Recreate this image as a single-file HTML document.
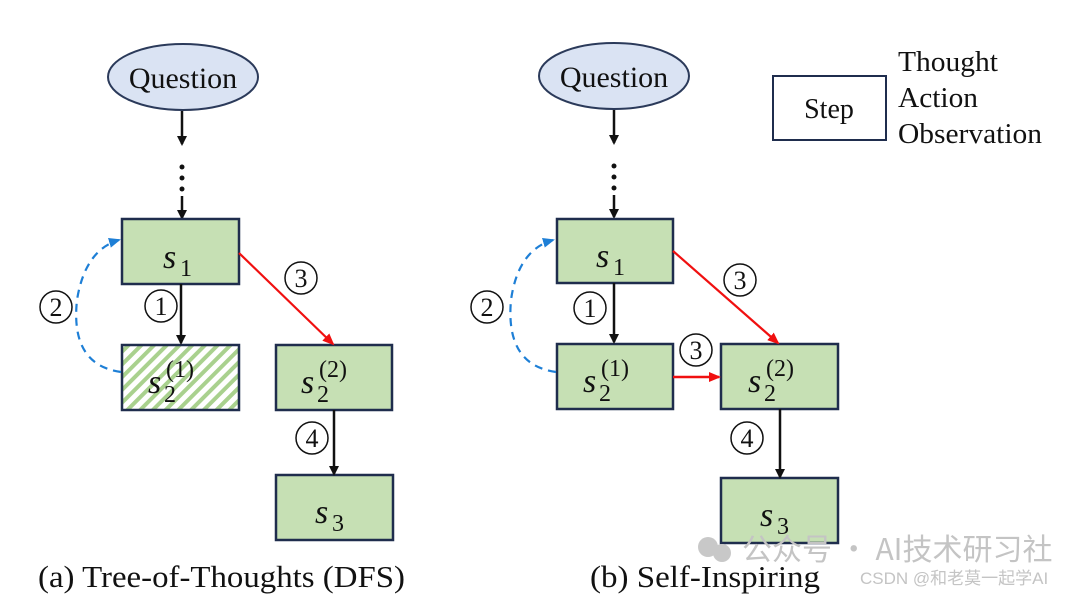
<!DOCTYPE html>
<html><head><meta charset="utf-8"><style>
html,body{margin:0;padding:0;background:#fff;}
svg{display:block;}
text{font-family:"Liberation Serif",serif;fill:#111;}
.s{font-style:italic;font-size:34px;}
.sub{font-size:24px;}
.sup{font-size:24px;}
</style></head><body>
<svg width="1080" height="594" viewBox="0 0 1080 594" xmlns="http://www.w3.org/2000/svg">
<defs>
<marker id="ak" markerWidth="10" markerHeight="10" refX="8" refY="5" orient="auto" markerUnits="userSpaceOnUse"><path d="M0,0 L10,5 L0,10 z" fill="#111"/></marker>
<marker id="ar" markerWidth="12" markerHeight="10" refX="10" refY="5" orient="auto" markerUnits="userSpaceOnUse"><path d="M0,0 L12,5 L0,10 z" fill="#f01010"/></marker>
<marker id="ab" markerWidth="12" markerHeight="10" refX="10" refY="5" orient="auto" markerUnits="userSpaceOnUse"><path d="M0,0 L12,5 L0,10 z" fill="#1e7fd6"/></marker>
<pattern id="hatch" width="9" height="9" patternUnits="userSpaceOnUse" patternTransform="rotate(45)">
<rect width="9" height="9" fill="#fff"/><rect width="4" height="9" fill="#a9d18e"/></pattern>
</defs>

<!-- LEFT -->
<ellipse cx="183" cy="77" rx="75" ry="33" fill="#dae3f3" stroke="#2b3a5a" stroke-width="2"/>
<text x="183" y="88" font-size="30" text-anchor="middle">Question</text>
<line x1="182" y1="111" x2="182" y2="144" stroke="#111" stroke-width="2.5" marker-end="url(#ak)"/>
<circle cx="182" cy="167" r="2.5" fill="#111"/><circle cx="182" cy="178" r="2.5" fill="#111"/><circle cx="182" cy="189" r="2.5" fill="#111"/>
<line x1="182" y1="196" x2="182" y2="218" stroke="#111" stroke-width="2.5" marker-end="url(#ak)"/>

<rect x="122" y="219" width="117" height="65" fill="#c6e0b4" stroke="#1f2d4d" stroke-width="2.5"/>
<text x="163" y="268" class="s">s</text><text x="180" y="276" class="sub">1</text>

<rect x="122" y="345" width="117" height="65" fill="url(#hatch)" stroke="#1f2d4d" stroke-width="2.5"/>
<text x="148" y="393" class="s">s</text><text x="164" y="402" class="sub">2</text><text x="166" y="377" class="sup">(1)</text>

<rect x="276" y="345" width="116" height="65" fill="#c6e0b4" stroke="#1f2d4d" stroke-width="2.5"/>
<text x="301" y="393" class="s">s</text><text x="317" y="402" class="sub">2</text><text x="319" y="377" class="sup">(2)</text>

<rect x="276" y="475" width="117" height="65" fill="#c6e0b4" stroke="#1f2d4d" stroke-width="2.5"/>
<text x="315" y="523" class="s">s</text><text x="332" y="531" class="sub">3</text>

<line x1="181" y1="284" x2="181" y2="343" stroke="#111" stroke-width="2.5" marker-end="url(#ak)"/>
<line x1="239" y1="253" x2="333" y2="344" stroke="#f01010" stroke-width="2.2" marker-end="url(#ar)"/>
<line x1="334" y1="410" x2="334" y2="474" stroke="#111" stroke-width="2.5" marker-end="url(#ak)"/>
<path d="M121,372 Q70,365 77,300 Q85,250 119,240" fill="none" stroke="#1e7fd6" stroke-width="2.2" stroke-dasharray="8,6" marker-end="url(#ab)"/>

<g fill="none" stroke="#111" stroke-width="1.5">
<circle cx="56" cy="307" r="16"/><circle cx="161" cy="306" r="16"/><circle cx="301" cy="278" r="16"/><circle cx="312" cy="438" r="16"/>
<circle cx="487" cy="307" r="16"/><circle cx="590" cy="308" r="16"/><circle cx="740" cy="280" r="16"/><circle cx="696" cy="350" r="16"/><circle cx="747" cy="438" r="16"/>
</g>
<g font-size="26" text-anchor="middle">
<text x="56" y="316">2</text><text x="161" y="315">1</text><text x="301" y="287">3</text><text x="312" y="447">4</text>
<text x="487" y="316">2</text><text x="590" y="317">1</text><text x="740" y="289">3</text><text x="696" y="359">3</text><text x="747" y="447">4</text>
</g>

<!-- RIGHT -->
<ellipse cx="614" cy="76" rx="75" ry="33" fill="#dae3f3" stroke="#2b3a5a" stroke-width="2"/>
<text x="614" y="87" font-size="30" text-anchor="middle">Question</text>
<line x1="614" y1="110" x2="614" y2="143" stroke="#111" stroke-width="2.5" marker-end="url(#ak)"/>
<circle cx="614" cy="166" r="2.5" fill="#111"/><circle cx="614" cy="177" r="2.5" fill="#111"/><circle cx="614" cy="188" r="2.5" fill="#111"/>
<line x1="614" y1="195" x2="614" y2="217" stroke="#111" stroke-width="2.5" marker-end="url(#ak)"/>

<rect x="557" y="219" width="116" height="64" fill="#c6e0b4" stroke="#1f2d4d" stroke-width="2.5"/>
<text x="596" y="267" class="s">s</text><text x="613" y="275" class="sub">1</text>

<rect x="557" y="344" width="116" height="65" fill="#c6e0b4" stroke="#1f2d4d" stroke-width="2.5"/>
<text x="583" y="392" class="s">s</text><text x="599" y="401" class="sub">2</text><text x="601" y="376" class="sup">(1)</text>

<rect x="721" y="344" width="117" height="65" fill="#c6e0b4" stroke="#1f2d4d" stroke-width="2.5"/>
<text x="748" y="392" class="s">s</text><text x="764" y="401" class="sub">2</text><text x="766" y="376" class="sup">(2)</text>

<rect x="721" y="478" width="117" height="65" fill="#c6e0b4" stroke="#1f2d4d" stroke-width="2.5"/>
<text x="760" y="526" class="s">s</text><text x="777" y="534" class="sub">3</text>

<line x1="614" y1="283" x2="614" y2="342" stroke="#111" stroke-width="2.5" marker-end="url(#ak)"/>
<line x1="673" y1="251" x2="778" y2="343" stroke="#f01010" stroke-width="2.2" marker-end="url(#ar)"/>
<line x1="673" y1="377" x2="719" y2="377" stroke="#f01010" stroke-width="2.5" marker-end="url(#ar)"/>
<line x1="780" y1="409" x2="780" y2="477" stroke="#111" stroke-width="2.5" marker-end="url(#ak)"/>
<path d="M556,372 Q505,365 511,300 Q518,250 553,240" fill="none" stroke="#1e7fd6" stroke-width="2.2" stroke-dasharray="8,6" marker-end="url(#ab)"/>

<!-- legend -->
<rect x="773" y="76" width="113" height="64" fill="#fff" stroke="#1f2d4d" stroke-width="2"/>
<text x="829" y="118" font-size="28" text-anchor="middle">Step</text>
<text x="898" y="71" font-size="28" textLength="100" lengthAdjust="spacingAndGlyphs">Thought</text>
<text x="898" y="107" font-size="28" textLength="80" lengthAdjust="spacingAndGlyphs">Action</text>
<text x="898" y="143" font-size="28" textLength="144" lengthAdjust="spacingAndGlyphs">Observation</text>

<!-- captions -->
<text x="38" y="587" font-size="31" textLength="367" lengthAdjust="spacingAndGlyphs">(a) Tree-of-Thoughts (DFS)</text>
<text x="590" y="587" font-size="31" textLength="230" lengthAdjust="spacingAndGlyphs">(b) Self-Inspiring</text>

<!-- watermark -->
<circle cx="708" cy="547" r="10" fill="#c8c8c8"/><circle cx="722" cy="553" r="9" fill="#c8c8c8"/>
<text x="742" y="560" font-size="30" style="font-family:'Noto Sans CJK SC',sans-serif;fill:#c4c4c4">公众号 · AI技术研习社</text>
<text x="860" y="584" font-size="17" style="font-family:'Liberation Sans','Noto Sans CJK SC',sans-serif;fill:#c4c4c4">CSDN @和老莫一起学AI</text>
</svg>
</body></html>
